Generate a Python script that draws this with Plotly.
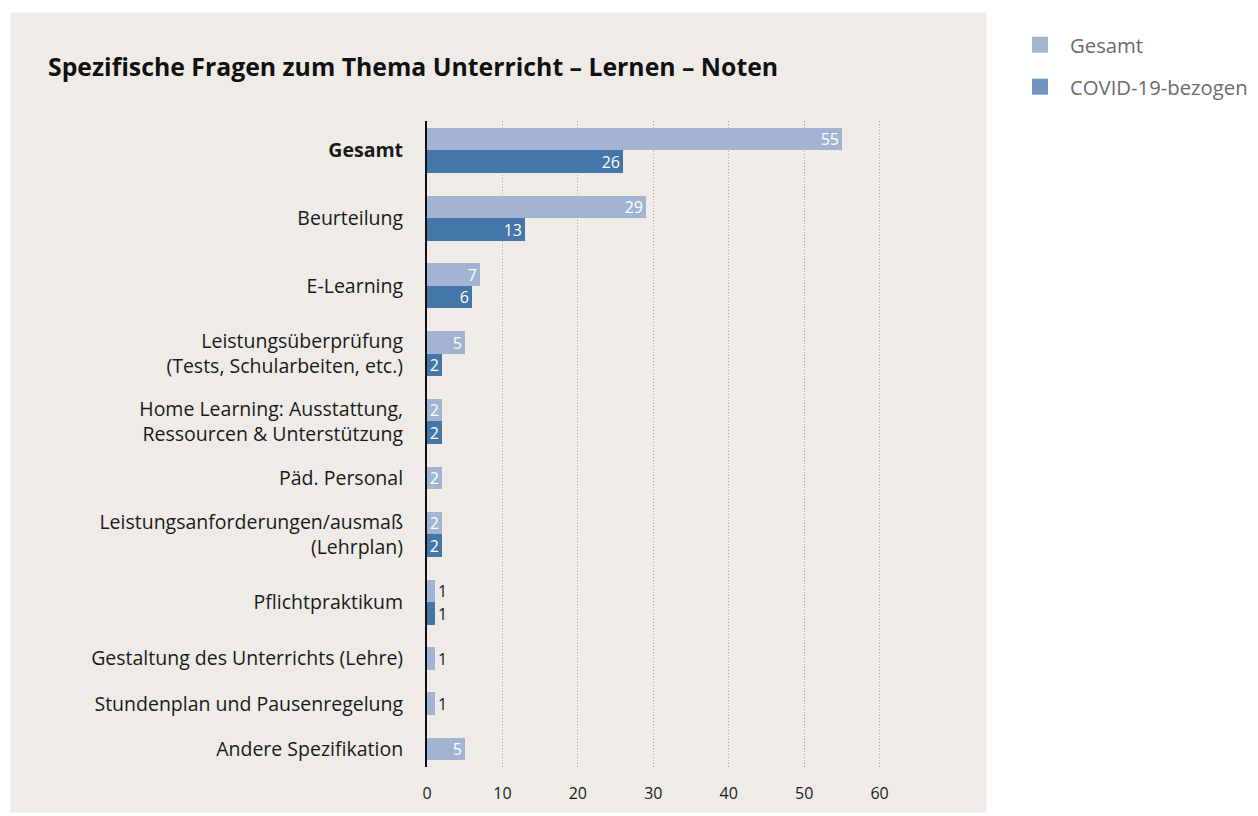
import plotly.graph_objects as go

categories = [
    "<b>Gesamt</b>",
    "Beurteilung",
    "E-Learning",
    "Leistungsüberprüfung<br>(Tests, Schularbeiten, etc.)",
    "Home Learning: Ausstattung,<br>Ressourcen & Unterstützung",
    "Päd. Personal",
    "Leistungsanforderungen/ausmaß<br>(Lehrplan)",
    "Pflichtpraktikum",
    "Gestaltung des Unterrichts (Lehre)",
    "Stundenplan und Pausenregelung",
    "Andere Spezifikation",
]
gesamt = [55, 29, 7, 5, 2, 2, 2, 1, 1, 1, 5]
covid = [26, 13, 6, 2, 2, None, 2, 1, None, None, None]
x_ticks = [0, 10, 20, 30, 40, 50, 60]

C_LIGHT = "#a2b4d1"
C_DARK = "#4477a7"
BG = "#efece8"
FONT = "Open Sans"

# layout of groups: each bar is one unit tall, gap of one unit between groups
centers, y_g, y_c = [], [], []
pos = 0.0
for g, c in zip(gesamt, covid):
    n = 2 if c is not None else 1
    center = pos + n / 2
    centers.append(center)
    if n == 2:
        y_g.append(center - 0.5)
        y_c.append(center + 0.5)
    else:
        y_g.append(center)
        y_c.append(None)
    pos += n + 1
total = pos - 1

cov_x = [c for c in covid if c is not None]
cov_y = [y for y in y_c if y is not None]


def positions(vals):
    return ["inside" if v >= 2 else "outside" for v in vals]


def colors(vals):
    return ["white" if v >= 2 else "#1a1a1a" for v in vals]


fig = go.Figure()
fig.add_trace(go.Bar(
    x=gesamt, y=y_g, orientation="h", width=1, marker_color=C_LIGHT,
    marker_line_width=0, text=[str(v) for v in gesamt],
    textposition=positions(gesamt), insidetextanchor="end", textangle=0,
    textfont=dict(family=FONT, size=16, color=colors(gesamt)),
    cliponaxis=False, showlegend=False, name="Gesamt",
))
fig.add_trace(go.Bar(
    x=cov_x, y=cov_y, orientation="h", width=1, marker_color=C_DARK,
    marker_line_width=0, text=[str(v) for v in cov_x],
    textposition=positions(cov_x), insidetextanchor="end", textangle=0,
    textfont=dict(family=FONT, size=16, color=colors(cov_x)),
    cliponaxis=False, showlegend=False, name="COVID-19-bezogen",
))
# legend entries
fig.add_trace(go.Scatter(x=[None], y=[None], mode="markers", name="Gesamt",
                         marker=dict(symbol="square", size=16, color="#a3b5d1"),
                         legend="legend"))
fig.add_trace(go.Scatter(x=[None], y=[None], mode="markers", name="COVID-19-bezogen",
                         marker=dict(symbol="square", size=16, color="#7094bd"),
                         legend="legend2"))

W, H = 1258, 816
L, R = 427, 955.5
T, B = 121, 770
pw, ph = R - L, B - T


def px(x):
    return (x - L) / pw


def py(y):
    return (B - y) / ph


fig.add_shape(type="rect", xref="paper", yref="paper",
              x0=px(10), x1=px(987), y0=py(816), y1=py(12),
              fillcolor=BG, line_width=0, layer="below")

legend_style = dict(xanchor="left", yanchor="middle", itemwidth=50,
                    xref="container", yref="container",
                    bgcolor="rgba(0,0,0,0)", itemclick=False,
                    font=dict(family=FONT, size=20.3, color="#6b6b6b"))

fig.update_layout(
    width=W, height=H,
    margin=dict(l=L, r=W - R, t=T, b=H - B, pad=0),
    paper_bgcolor="white", plot_bgcolor=BG,
    bargap=0, barmode="overlay",
    font=dict(family=FONT, size=19, color="#1a1a1a"),
    title=dict(text="Spezifische Fragen zum Thema Unterricht – Lernen – Noten",
               x=48 / W, xanchor="left", y=1 - 67 / H, yanchor="middle",
               font=dict(family=FONT, size=24.8, weight=700, color="#111111")),
    xaxis=dict(range=[0, 70], tickvals=x_ticks, showgrid=True,
               gridcolor="#a8a8a8", griddash="1px,2px", gridwidth=1,
               zeroline=False, showline=False, ticks="",
               ticklabelstandoff=15,
               tickfont=dict(family=FONT, size=16, color="#1a1a1a")),
    yaxis=dict(range=[total + 0.3, -0.3], tickvals=centers, ticktext=categories,
               showgrid=False, zeroline=False, showline=True,
               linecolor="#111111", linewidth=2, ticks="",
               ticklabelstandoff=18,
               tickfont=dict(family=FONT, size=19.5, color="#1a1a1a")),
    uniformtext=dict(minsize=15, mode="show"),
    legend=dict(x=1010 / W, y=1 - 45 / H, **legend_style),
    legend2=dict(x=1010 / W, y=1 - 87 / H, **legend_style),
)

fig.write_html("out.html", post_script="document.body.style.margin='0';",
               config={"displayModeBar": False})
